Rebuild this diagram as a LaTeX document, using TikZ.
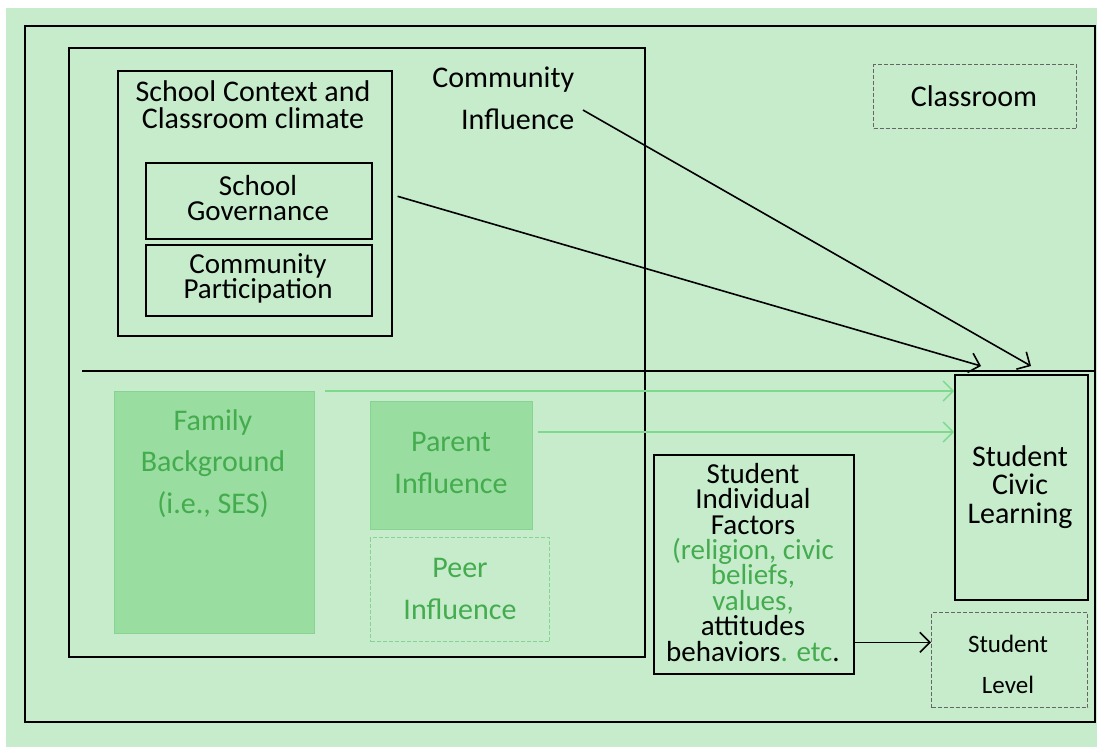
\documentclass[tikz,border=0pt]{standalone}
\usepackage{xcolor}
\usepackage{fontspec}
\setmainfont{Carlito}
\definecolor{bggreen}{RGB}{198,236,204}
\definecolor{boxgreen}{RGB}{153,221,160}
\definecolor{edgegreen}{RGB}{135,212,146}
\definecolor{txtgreen}{RGB}{68,172,78}
\definecolor{arrgreen}{RGB}{125,218,140}
\newcommand{\grn}[1]{\textcolor{txtgreen}{#1}}
\usepackage{tikz}
\usetikzlibrary{arrows.meta}
\usetikzlibrary{positioning}

\begin{document}
\begin{tikzpicture}[x=1pt, y=-1pt, line width=1.6pt, % Levels
    >={Straight Barb[length=10pt,width=20pt]},
    box/.style={draw, inner sep=0pt, anchor=north west},
    dashbox/.style={draw=black!60, dash pattern=on 4pt off 2pt, line width=1pt, inner sep=0pt, anchor=north west},
    fillbox/.style={draw=edgegreen, fill=boxgreen, line width=1pt, inner sep=0pt, anchor=north west},
    peerbox/.style={draw=edgegreen, dash pattern=on 4pt off 2pt, line width=1pt, inner sep=0pt, anchor=north west},
    txt/.style={align=center, anchor=base, inner sep=0pt, font=\fontsize{30}{27}\selectfont},
    widetxt/.style={txt, font=\fontsize{30}{41.5}\selectfont},
    garrow/.style={->, draw=arrgreen, line width=1.4pt}]

      \useasboundingbox (0,0) rectangle (1097,747);
      \fill [bggreen] (6,8) rectangle (1097,747);
      \draw (25,26) rectangle (1095,722);
      \draw (69,48) rectangle (645,657);
      \draw (82,371) -- (1095,371);

      \node [box, minimum width=274pt, minimum height=265pt] (ctx) at (117,70) {};
      \node [txt] (ctxtitle) at (253,128) {School Context and\\Classroom climate};
      \node [box, minimum width=226pt, minimum height=76pt] (gov) at (145,162) {};
      \node [txt, font=\fontsize{29}{25}\selectfont] at (258,220) {School\\Governance};
      \node [box, minimum width=226pt, minimum height=71pt] (part) at (145,244) {};
      \node [txt, font=\fontsize{29}{25}\selectfont] at (258,298) {Community\\Participation};
      \node [widetxt, align=right, anchor=base east] (comm) at (575,129) {Community\\Influence};

      \node [dashbox, minimum width=203pt, minimum height=64pt] (room) at (873,64) {};
      \node [txt] at (974,106) {Classroom};

      \node [fillbox, minimum width=200pt, minimum height=242pt] (fam) at (114,391) {};
      \node [widetxt, text=txtgreen] at (213,513) {Family\\Background\\(i.e., SES)};
      \node [fillbox, minimum width=162pt, minimum height=128pt] (par) at (370,401) {};
      \node [widetxt, text=txtgreen] at (451,493) {Parent\\Influence};
      \node [peerbox, minimum width=179pt, minimum height=104pt] (peer) at (370,537) {};
      \node [widetxt, text=txtgreen] at (460,619) {Peer\\Influence};

      \node [box, minimum width=200pt, minimum height=219pt] (indiv) at (653,454) {};
      \node [txt, font=\fontsize{29}{25.4}\selectfont] at (753,661)
        {Student\\Individual\\Factors\\\grn{(religion, civic}\\\grn{beliefs,}\\\grn{values,}\\attitudes\\behaviors\grn{. etc}.};

      \node [box, minimum width=133pt, minimum height=225pt] (civic) at (954,374) {};
      \node [txt, font=\fontsize{30}{28.5}\selectfont] at (1020,523) {Student\\Civic\\Learning};
      \node [dashbox, minimum width=156pt, minimum height=95pt] (lvl) at (931,612) {};
      \node [txt, font=\fontsize{25}{41}\selectfont] at (1008,693) {Student\\Level};

      \coordinate (tipA) at (981,366);
      \coordinate (tipB) at (1031,366);
      \draw [->] ([shift={(8pt,-12pt)}]comm.east) -- (tipB);
      \draw [->] ([shift={(5pt,7pt)}]ctx.east) -- (tipA);

      \coordinate (fout) at ([xshift=10pt]fam.north east);
      \draw [garrow] (fout) -- (fout -| civic.west);
      \coordinate (pout) at ([shift={(5pt,-31pt)}]par.north east);
      \draw [garrow] (pout) -- (pout -| civic.west);
      \coordinate (iout) at ([yshift=-78pt]indiv.east);
      \draw [->] (iout) -- (iout -| lvl.west);

    \end{tikzpicture}
\end{document}
